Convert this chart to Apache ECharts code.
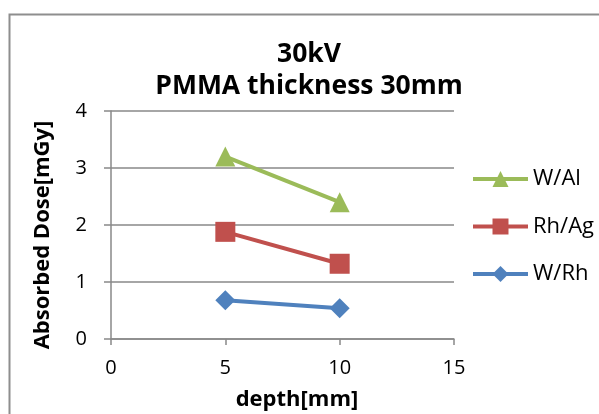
<!DOCTYPE html>
<html>
<head>
<meta charset="utf-8">
<style>
  html, body { margin: 0; padding: 0; background: #fff; }
  #chart { width: 599px; height: 414px; }
</style>
<script src="https://cdn.jsdelivr.net/npm/echarts@6/dist/echarts.min.js"></script>
</head>
<body>
<div id="chart"></div>
<script>
// Absorbed dose vs depth, 30 kV beam through 30 mm PMMA
const depths = [5, 10];
const doseWAl = [3.20, 2.40];
const doseRhAg = [1.88, 1.32];
const doseWRh = [0.68, 0.54];
const xTicks = { min: 0, max: 15, interval: 5 };
const yTicks = { min: 0, max: 4, interval: 1 };

const FONT = 'Open Sans';
const GRID_GRAY = '#898989';

function pairs(xs, ys) {
  return xs.map((x, i) => [x, ys[i]]);
}

function series(name, values, color, symbol) {
  return {
    name: name,
    type: 'line',
    data: pairs(depths, values),
    symbol: symbol,
    symbolSize: 20,
    lineStyle: { color: color, width: 4 },
    itemStyle: { color: color },
    animation: false
  };
}

const chart = echarts.init(document.getElementById('chart'), null, { renderer: 'canvas' });

chart.setOption({
  backgroundColor: '#fff',
  animation: false,
  grid: { left: 111, right: 145, top: 111, bottom: 75 },
  xAxis: {
    type: 'value',
    min: xTicks.min, max: xTicks.max, interval: xTicks.interval,
    axisLine: { show: true, lineStyle: { color: GRID_GRAY, width: 1.5 } },
    axisTick: { show: true, inside: false, length: 6, lineStyle: { color: GRID_GRAY, width: 1.5 } },
    splitLine: { show: false },
    axisLabel: { margin: 19, color: '#000', fontFamily: FONT, fontSize: 20 }
  },
  yAxis: {
    type: 'value',
    min: yTicks.min, max: yTicks.max, interval: yTicks.interval,
    axisLine: { show: true, lineStyle: { color: GRID_GRAY, width: 1.5 } },
    axisTick: { show: true, inside: false, length: 7, lineStyle: { color: GRID_GRAY, width: 1.5 } },
    splitLine: { show: true, lineStyle: { color: GRID_GRAY, width: 1.5 } },
    axisLabel: { margin: 24, color: '#000', fontFamily: FONT, fontSize: 20 }
  },
  legend: {
    orient: 'vertical',
    left: 471,
    top: 168,
    padding: 0,
    itemWidth: 55,
    itemHeight: 20,
    itemGap: 25.5,
    data: ['W/Al', 'Rh/Ag', 'W/Rh'],
    lineStyle: { width: 4 },
    textStyle: { color: '#000', fontFamily: FONT, fontSize: 22, lineHeight: 22, padding: [0, 0, 0, 0] }
  },
  series: [
    series('W/Al', doseWAl, '#9BBB59', 'triangle'),
    series('Rh/Ag', doseRhAg, '#C0504D', 'rect'),
    series('W/Rh', doseWRh, '#4F81BD', 'diamond')
  ],
  graphic: [
    {
      type: 'rect',
      silent: true,
      z: -10,
      shape: { x: 9.5, y: 14.5, width: 700, height: 500 },
      style: { fill: 'none', stroke: '#8e8e8e', lineWidth: 2 }
    },
    {
      type: 'text',
      x: 309, y: 54,
      style: { text: '30kV', fill: '#000', font: 'bold 26.5px "' + FONT + '"', textAlign: 'center', textVerticalAlign: 'middle' }
    },
    {
      type: 'text',
      x: 309, y: 86,
      style: { text: 'PMMA thickness 30mm', fill: '#000', font: 'bold 26.5px "' + FONT + '"', textAlign: 'center', textVerticalAlign: 'middle' }
    },
    {
      type: 'text',
      x: 43, y: 235,
      rotation: Math.PI / 2,
      style: { text: 'Absorbed Dose[mGy]', fill: '#000', font: 'bold 22px "' + FONT + '"', textAlign: 'center', textVerticalAlign: 'middle' }
    },
    {
      type: 'text',
      x: 297, y: 400,
      style: { text: 'depth[mm]', fill: '#000', font: 'bold 22px "' + FONT + '"', textAlign: 'center', textVerticalAlign: 'middle' }
    }
  ]
});
</script>
</body>
</html>
